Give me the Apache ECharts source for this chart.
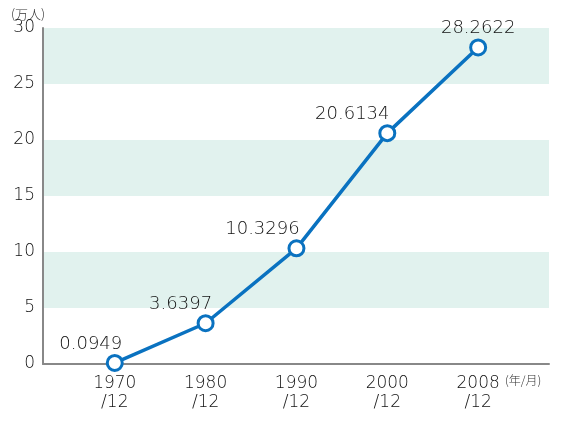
<!DOCTYPE html>
<html>
<head>
<meta charset="utf-8">
<script src="https://cdn.jsdelivr.net/npm/echarts@6/dist/echarts.min.js"></script>
<style>
  html, body { margin: 0; padding: 0; background: #fff; }
</style>
</head>
<body>
<div id="chart" style="width: 562px; height: 421px"></div>
<script>
const categories = ['1970\n/12', '1980\n/12', '1990\n/12', '2000\n/12', '2008\n/12']
const values = [0.0949, 3.6397, 10.3296, 20.6134, 28.2622]
const labelShift = [-24, -25, -34, -35, 0]
const yTicks = [0, 5, 10, 15, 20, 25, 30]

const font = "'DejaVu Sans', sans-serif"
const cjkFont = "'Noto Sans CJK JP', sans-serif"
const textColor = '#111'
const chart = echarts.init(document.getElementById('chart'))

const option = {
  animation: false,
  grid: { left: 43, right: 13, top: 28, bottom: 57 },
  xAxis: {
    type: 'value',
    min: -0.79,
    max: 4.78,
    splitLine: { show: false },
    axisLine: { show: true, onZero: false, lineStyle: { color: '#888', width: 2 } },
    axisTick: { show: false },
    axisLabel: {
      customValues: [0, 1, 2, 3, 4],
      formatter: function (v) {
        return categories[Math.round(v)]
      },
      margin: 10,
      fontSize: 17,
      lineHeight: 19,
      color: textColor,
      fontWeight: 200,
      fontFamily: font
    }
  },
  yAxis: {
    type: 'value',
    min: yTicks[0],
    max: yTicks[yTicks.length - 1],
    interval: 5,
    axisLine: { show: true, onZero: false, lineStyle: { color: '#888', width: 2 } },
    axisTick: { show: false },
    splitLine: { show: false },
    splitArea: { show: true, areaStyle: { color: ['#ffffff', '#e1f2ee'] } },
    axisLabel: { margin: 8, fontSize: 17, color: textColor, fontWeight: 200, fontFamily: font }
  },
  graphic: [
    {
      type: 'text', left: 11, top: 8,
      style: { text: '(万人)', fontSize: 13, fill: '#333', fontWeight: 300, fontFamily: cjkFont }
    },
    {
      type: 'text', left: 505, top: 374,
      style: { text: '(年/月)', fontSize: 12, fill: '#333', fontWeight: 300, fontFamily: cjkFont }
    }
  ],
  series: [
    {
      type: 'line',
      data: values.map(function (v, i) {
        return {
          value: [i, v],
          label: { offset: [labelShift[i], 0] }
        }
      }),
      lineStyle: { color: '#0a72c0', width: 3.5 },
      symbol: 'circle',
      symbolSize: 15,
      itemStyle: { color: '#fff', borderColor: '#0a72c0', borderWidth: 3 },
      label: {
        show: true,
        position: 'top',
        distance: 1,
        fontSize: 18,
        color: textColor,
        fontWeight: 200,
        fontFamily: font,
        formatter: function (p) {
          return p.value[1].toFixed(4)
        }
      }
    }
  ]
}
chart.setOption(option)
</script>
</body>
</html>
